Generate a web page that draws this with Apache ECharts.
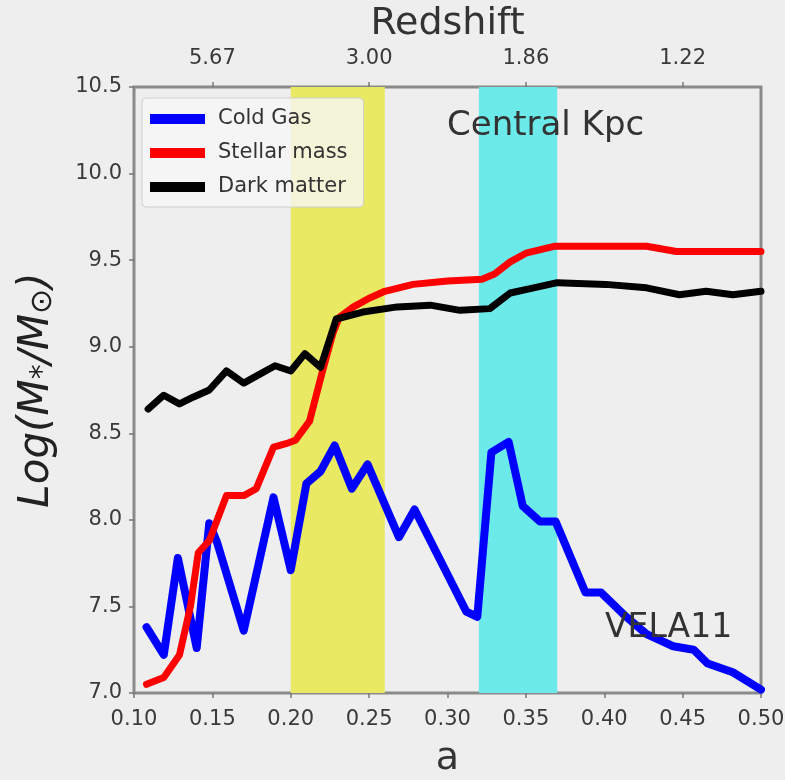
<!DOCTYPE html>
<html>
<head>
<meta charset="utf-8">
<script src="https://cdn.jsdelivr.net/npm/echarts@6/dist/echarts.min.js"></script>
<style>
html,body{margin:0;padding:0;background:#eeeeee;}
#chart{width:785px;height:780px;}
</style>
</head>
<body>
<div id="chart"></div>
<script>
// ---- data ----
const gasA  = [0.108,0.119,0.128,0.140,0.148,0.153,0.170,0.189,0.200,0.210,0.219,0.228,0.239,0.249,0.269,0.279,0.312,0.319,0.328,0.339,0.348,0.359,0.369,0.388,0.398,0.414,0.427,0.444,0.457,0.466,0.482,0.500];
const gasV  = [7.38,7.22,7.78,7.26,7.98,7.87,7.36,8.13,7.71,8.21,8.28,8.43,8.18,8.32,7.90,8.06,7.47,7.44,8.39,8.45,8.08,7.99,7.99,7.58,7.58,7.44,7.34,7.27,7.25,7.17,7.12,7.02];

const starA = [0.108,0.119,0.129,0.136,0.141,0.148,0.159,0.170,0.178,0.189,0.197,0.203,0.212,0.220,0.227,0.231,0.240,0.250,0.260,0.278,0.300,0.322,0.330,0.340,0.350,0.368,0.400,0.427,0.446,0.470,0.500];
const starV = [7.05,7.09,7.22,7.50,7.81,7.88,8.14,8.14,8.18,8.42,8.44,8.46,8.57,8.85,9.08,9.17,9.23,9.28,9.32,9.36,9.38,9.39,9.42,9.49,9.54,9.58,9.58,9.58,9.55,9.55,9.55];

const dmA   = [0.109,0.119,0.129,0.138,0.148,0.159,0.170,0.180,0.190,0.200,0.209,0.219,0.229,0.246,0.268,0.289,0.308,0.327,0.340,0.355,0.370,0.401,0.427,0.448,0.465,0.482,0.500];
const dmV   = [8.64,8.72,8.67,8.71,8.75,8.86,8.79,8.84,8.89,8.86,8.96,8.88,9.16,9.20,9.23,9.24,9.21,9.22,9.31,9.34,9.37,9.36,9.34,9.30,9.32,9.30,9.32];

const seriesNames = ['Cold Gas','Stellar mass','Dark matter'];
const bandYellow = [0.20, 0.26];
const bandCyan   = [0.32, 0.37];
const topTickA      = [0.15, 0.25, 0.35, 0.45];
const topTickLabels = ['5.67', '3.00', '1.86', '1.22'];

const pairs = (xs, ys) => xs.map((x, i) => [x, ys[i]]);
const FONT = 'DejaVu Sans';

const chart = echarts.init(document.getElementById('chart'));
chart.setOption({
  backgroundColor: '#eeeeee',
  animation: false,
  grid: {left: 134, right: 24, top: 87, bottom: 87, show: true, outerBoundsMode: 'none', containLabel: false,
         backgroundColor: '#eeeeee', borderColor: '#8a8a8a', borderWidth: 3},
  legend: {
    data: seriesNames, orient: 'vertical', left: 142, top: 98,
    icon: 'rect', itemWidth: 55, itemHeight: 10, itemGap: 10,
    padding: [9, 16, 8, 8],
    backgroundColor: 'rgba(246,246,246,0.8)', borderColor: '#cfcfcf', borderWidth: 1, borderRadius: 4,
    textStyle: {fontFamily: FONT, fontSize: 21, color: '#333', lineHeight: 24, padding: [0,0,0,8]}
  },
  xAxis: [
    {type: 'value', position: 'bottom', min: 0.1, max: 0.5, interval: 0.05,
     axisLine: {show: false}, splitLine: {show: false},
     axisTick: {show: true, length: 5, lineStyle: {color: '#777', width: 1.5}},
     axisLabel: {fontFamily: FONT, fontSize: 21, color: '#3a3a3a', margin: 16,
                 formatter: v => v.toFixed(2)},
     name: 'a', nameLocation: 'middle', nameGap: 47,
     nameTextStyle: {fontFamily: FONT, fontSize: 38, color: '#333'}},
    {type: 'value', position: 'top', min: 0.1, max: 0.5,
     axisLine: {show: false}, splitLine: {show: false},
     axisTick: {show: true, length: 5, customValues: topTickA, lineStyle: {color: '#777', width: 1.5}},
     axisLabel: {fontFamily: FONT, fontSize: 21, color: '#3a3a3a', margin: 18,
                 customValues: topTickA,
                 formatter: v => { const i = topTickA.findIndex(t => Math.abs(t - v) < 1e-6); return i >= 0 ? topTickLabels[i] : ''; }},
     name: 'Redshift', nameLocation: 'middle', nameGap: 44,
     nameTextStyle: {fontFamily: FONT, fontSize: 38, color: '#333'}}
  ],
  yAxis: {
    type: 'value', min: 7, max: 10.5, interval: 0.5,
    axisLine: {show: false}, splitLine: {show: false},
    axisTick: {show: true, length: 5, lineStyle: {color: '#777', width: 1.5}},
    axisLabel: {fontFamily: FONT, fontSize: 21, color: '#3a3a3a', margin: 12, formatter: v => v.toFixed(1)},
    name: '{a|Log(M}{b|*}{a|/M}{c|⊙}{a|)}', nameLocation: 'middle', nameGap: 76, nameRotate: 90,
    nameTextStyle: {fontFamily: FONT, fontSize: 42, color: '#222',
      rich: {
        a: {fontFamily: FONT, fontSize: 42, fontStyle: 'italic', color: '#222'},
        b: {fontFamily: FONT, fontSize: 30, fontStyle: 'italic', color: '#222', verticalAlign: 'bottom'},
        c: {fontFamily: FONT, fontSize: 30, color: '#222', verticalAlign: 'bottom'}
      }}
  },
  series: [
    {type: 'line', name: '_bands', data: [], silent: true, z: 1,
     markArea: {silent: true, data: [
       [{xAxis: bandYellow[0], itemStyle: {color: '#e9e964'}}, {xAxis: bandYellow[1]}],
       [{xAxis: bandCyan[0], itemStyle: {color: '#6ce9e9'}}, {xAxis: bandCyan[1]}]
     ]}},
    {type: 'line', name: seriesNames[0], data: pairs(gasA, gasV), color: '#0000ff',
     showSymbol: false, lineStyle: {width: 8, color: '#0000ff', join: 'round', cap: 'round'}, z: 3},
    {type: 'line', name: seriesNames[1], data: pairs(starA, starV), color: '#ff0000',
     showSymbol: false, lineStyle: {width: 7, color: '#ff0000', join: 'round', cap: 'round'}, z: 4},
    {type: 'line', name: seriesNames[2], data: pairs(dmA, dmV), color: '#000000',
     showSymbol: false, lineStyle: {width: 7, color: '#000000', join: 'round', cap: 'round'}, z: 5}
  ],
  graphic: [
    {type: 'text', left: 447, top: 109, z: 10,
     style: {text: 'Central Kpc', fontFamily: FONT, fontSize: 34, fill: '#333'}},
    {type: 'text', left: 605, top: 612, z: 10,
     style: {text: 'VELA11', fontFamily: FONT, fontSize: 33, fill: '#333'}}
  ]
});
</script>
</body>
</html>
